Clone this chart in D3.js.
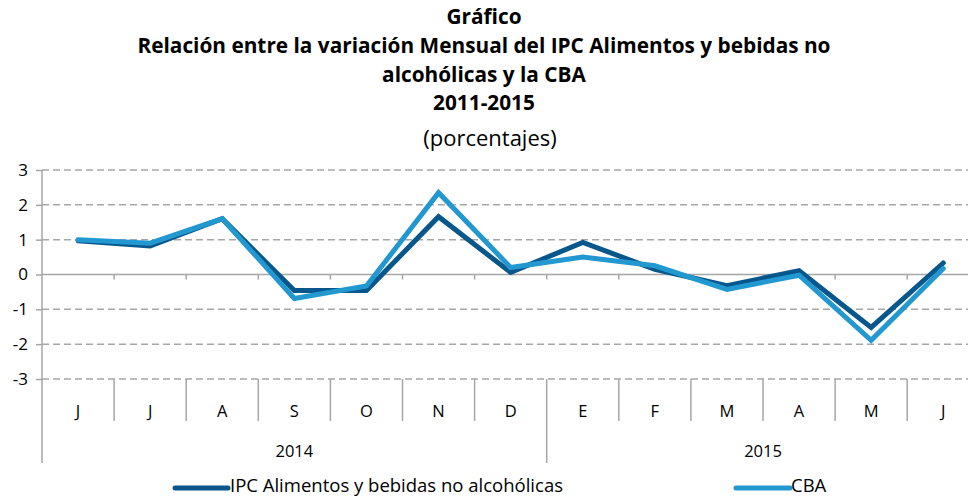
<!DOCTYPE html>
<html><head><meta charset="utf-8">
<script src="https://cdn.jsdelivr.net/npm/d3@7/dist/d3.min.js"></script>
<style>body{margin:0;background:#fff;overflow:hidden}svg{display:block}</style>
</head><body>
<script>
const months = ["J","J","A","S","O","N","D","E","F","M","A","M","J"];
const years = [{label:"2014", start:0, end:7},{label:"2015", start:7, end:13}];
const ipc = [0.97,0.82,1.6,-0.46,-0.46,1.66,0.06,0.92,0.15,-0.32,0.11,-1.52,0.33];
const cba = [1.0,0.9,1.6,-0.69,-0.33,2.35,0.2,0.5,0.25,-0.43,-0.02,-1.89,0.17];
const yTicks = [3,2,1,0,-1,-2,-3];
const seriesNames = ["IPC Alimentos y bebidas no alcohólicas","CBA"];
const colors = ["#07578c","#2198cf"];
const titleLines = ["Gráfico","Relación entre la variación Mensual del IPC Alimentos y bebidas no","alcohólicas y la CBA","2011-2015"];

const W=968,H=500;
const svg=d3.select("body").append("svg").attr("width",W).attr("height",H);
const font="'Open Sans', sans-serif";
const x0=42, x1=42+72.1*13;
const x=d3.scaleBand().domain(d3.range(months.length)).range([x0,x1]);
const y=d3.scaleLinear().domain([-3,3]).range([379,170]);

// title
const tY=[17,46,75,103];
titleLines.forEach((t,i)=>svg.append("text").attr("x",484).attr("y",tY[i]).attr("dy","0.35em")
  .attr("text-anchor","middle").attr("font-family",font).attr("font-weight","bold").attr("font-size",20.8).attr("fill","#000").text(t));
svg.append("text").attr("x",490).attr("y",138).attr("dy","0.35em").attr("text-anchor","middle")
  .attr("font-family",font).attr("font-size",22).attr("fill","#000").text("(porcentajes)");

// gridlines
svg.append("g").selectAll("line").data(yTicks.filter(d=>d!==0)).join("line")
  .attr("x1",x0).attr("x2",W).attr("y1",d=>y(d)).attr("y2",d=>y(d))
  .attr("stroke","#a6a6a6").attr("stroke-width",1.5).attr("stroke-dasharray","7,4");
// y axis
const ya=d3.axisLeft(y).tickValues(yTicks).tickSize(6).tickFormat(d=>String(d));
const gy=svg.append("g").attr("transform",`translate(${x0},0)`).call(ya);
gy.select(".domain").remove();
gy.selectAll(".tick line").attr("stroke","#a6a6a6").attr("stroke-width",1.5);
gy.selectAll(".tick text").attr("font-family",font).attr("font-size",17).attr("fill","#000").attr("x",-14).attr("text-anchor","end");
svg.append("line").attr("x1",x0).attr("x2",x0).attr("y1",170).attr("y2",463).attr("stroke","#a6a6a6").attr("stroke-width",1.5);
// zero line with ticks
svg.append("line").attr("x1",x0).attr("x2",W).attr("y1",y(0)).attr("y2",y(0)).attr("stroke","#a6a6a6").attr("stroke-width",1.5);
svg.append("g").selectAll("line").data(d3.range(1,months.length)).join("line")
  .attr("x1",i=>x(i)).attr("x2",i=>x(i)).attr("y1",y(0)).attr("y2",y(0)+5).attr("stroke","#a6a6a6").attr("stroke-width",1.5);
// category separators
svg.append("g").selectAll("line").data(d3.range(1,months.length)).join("line")
  .attr("x1",i=>x(i)).attr("x2",i=>x(i)).attr("y1",379).attr("y2",i=>years.some(yr=>yr.start===i)?463:421)
  .attr("stroke","#a6a6a6").attr("stroke-width",1.5);
// month labels
svg.append("g").selectAll("text").data(months).join("text")
  .attr("x",(d,i)=>x(i)+x.bandwidth()/2).attr("y",411).attr("dy","0.35em").attr("text-anchor","middle")
  .attr("font-family",font).attr("font-size",16.5).attr("fill","#000").text(d=>d);
svg.append("g").selectAll("text").data(years).join("text")
  .attr("x",d=>(x(d.start)+(d.end<months.length?x(d.end):x1))/2).attr("y",451).attr("dy","0.35em").attr("text-anchor","middle")
  .attr("font-family",font).attr("font-size",16.5).attr("fill","#000").text(d=>d.label);

// lines
const line=d3.line().x((d,i)=>x(i)+x.bandwidth()/2).y(d=>y(d));
[ipc,cba].forEach((s,k)=>svg.append("path").datum(s).attr("d",line).attr("fill","none")
  .attr("stroke",colors[k]).attr("stroke-width",5).attr("stroke-linejoin","miter").attr("stroke-linecap","round"));

// legend
const lg=[{x:175,w:53,tx:230},{x:736,w:54,tx:791}];
lg.forEach((l,k)=>{
  svg.append("line").attr("x1",l.x).attr("x2",l.x+l.w).attr("y1",488).attr("y2",488).attr("stroke",colors[k]).attr("stroke-width",5).attr("stroke-linecap","round");
  svg.append("text").attr("x",l.tx).attr("y",486).attr("dy","0.35em").attr("font-family",font).attr("font-size",18.5).attr("fill","#000").text(seriesNames[k]);
});
</script>
</body></html>
